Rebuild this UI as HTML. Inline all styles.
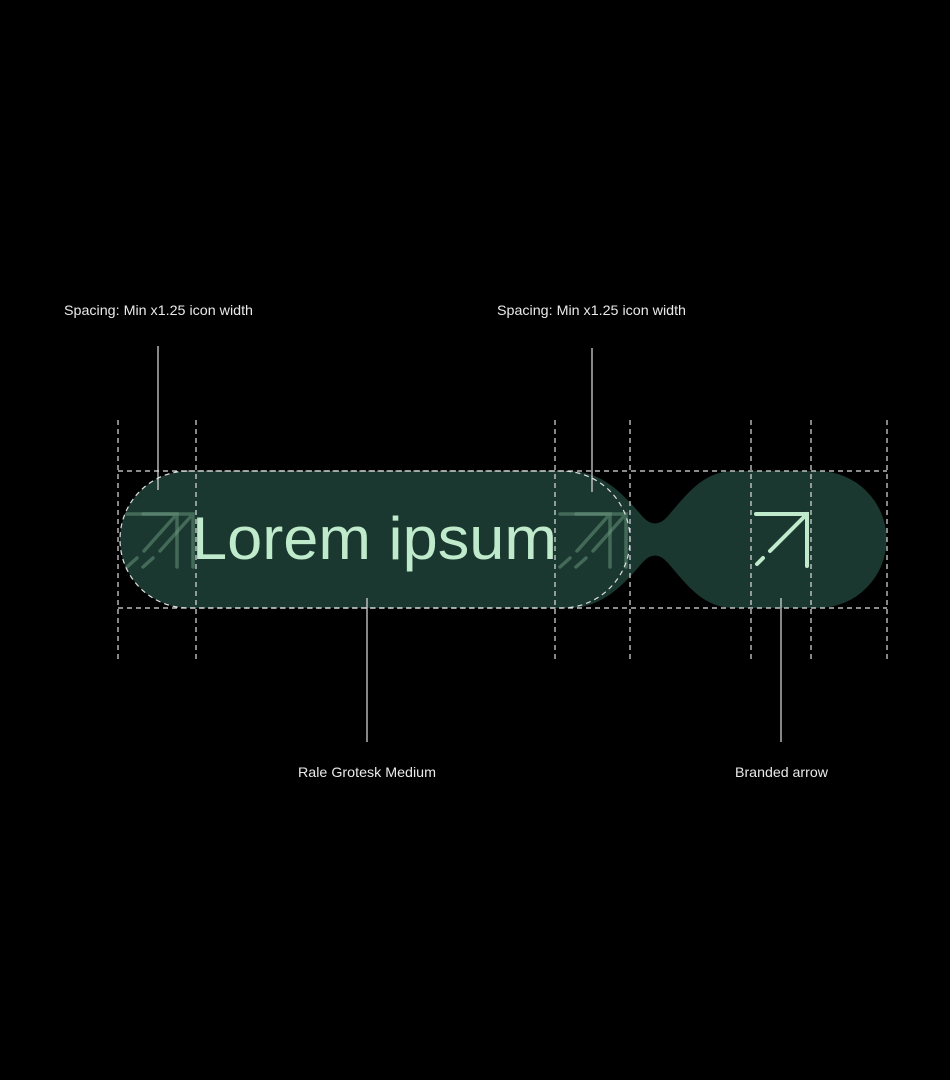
<!DOCTYPE html>
<html><head><style>
html,body{margin:0;padding:0;background:#000;}
svg{display:block}
text{font-family:"Liberation Sans",sans-serif;}
</style></head><body>
<svg width="950" height="1080" viewBox="0 0 950 1080" xmlns="http://www.w3.org/2000/svg">
<rect width="950" height="1080" fill="#000"/>
<path d="M188.5,471 H568 C600,471 620,490 642,516 Q655,531 668,516 C690,490 705,471 735,471 H818 A68.5,68.5 0 0 1 818,608 H735 C705,608 690,589 668,563 Q655,548 642,563 C620,589 600,608 568,608 H188.5 A68.5,68.5 0 0 1 188.5,471 Z" fill="#1b3830"/>
<!-- ghost arrows -->
<g stroke="#6b9a80" stroke-opacity="0.5" stroke-width="3.5" stroke-linecap="round" fill="none">
<path d="M143,514 H193 V567 M193,514 L160,551 M153,558 L143,567"/>
<path d="M127,514 H177 V567 M177,514 L144,551 M137,558 L127,567"/>
<path d="M576,514 H626 V567 M626,514 L593,551 M586,558 L576,567"/>
<path d="M560,514 H610 V567 M610,514 L577,551 M570,558 L560,567"/>
</g>
<text x="192" y="559" font-size="60" fill="#bfeacb" textLength="365" lengthAdjust="spacingAndGlyphs">Lorem ipsum</text>
<!-- branded arrow -->
<g stroke="#bfeacb" stroke-width="4" stroke-linecap="round" fill="none">
<path d="M756,514 H807 V566 M807,514 L770,551 M763,558 L757,564"/>
</g>
<!-- dashed guides -->
<g stroke="#e0e0e0" stroke-width="1.2" stroke-dasharray="5,4" fill="none">
<path d="M118,420 V660 M196,420 V660 M555,420 V660 M630,420 V660 M751,420 V660 M811,420 V660 M887,420 V660"/>
<path d="M118,471 H887 M118,608 H887"/>
<path d="M188.5,471 H561.5 A68.5,68.5 0 0 1 561.5,608 H188.5 A68.5,68.5 0 0 1 188.5,471 Z"/>
</g>
<!-- leaders -->
<g stroke="#e0e0e0" stroke-width="1.2">
<path d="M158,346 V490 M592,348 V492 M367,598 V742 M781,598 V742"/>
</g>
<g fill="#eaeaea" font-size="14">
<text x="64" y="315" textLength="189" lengthAdjust="spacingAndGlyphs">Spacing: Min x1.25 icon width</text>
<text x="497" y="315" textLength="189" lengthAdjust="spacingAndGlyphs">Spacing: Min x1.25 icon width</text>
<text x="298" y="777" textLength="138" lengthAdjust="spacingAndGlyphs">Rale Grotesk Medium</text>
<text x="735" y="777" textLength="93" lengthAdjust="spacingAndGlyphs">Branded arrow</text>
</g>
</svg>
</body></html>
